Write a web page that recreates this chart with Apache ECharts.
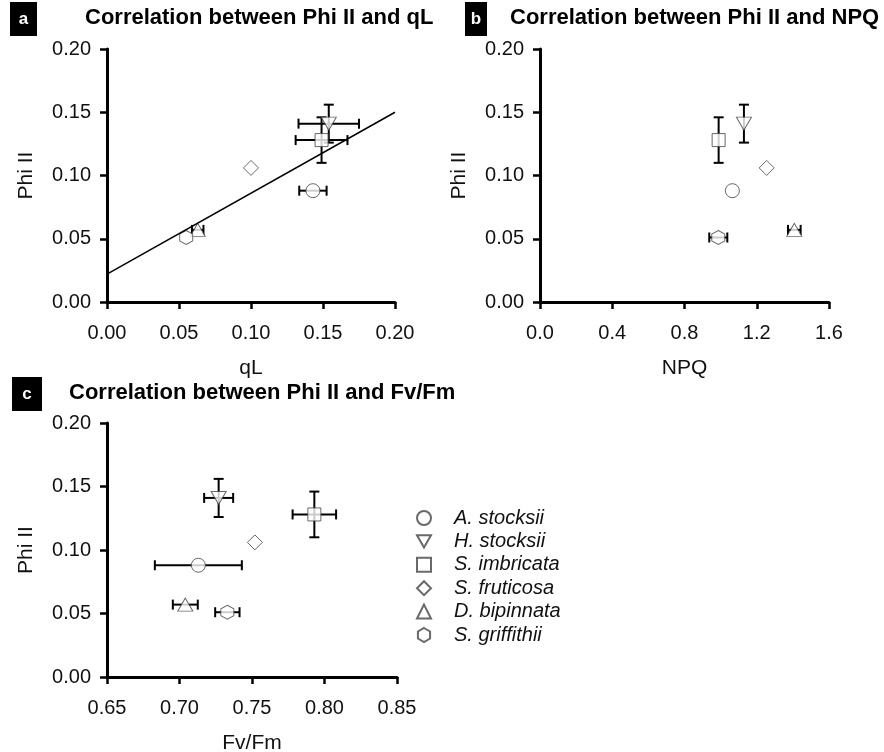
<!DOCTYPE html>
<html>
<head>
<meta charset="utf-8">
<script src="https://cdn.jsdelivr.net/npm/echarts@6/dist/echarts.min.js"></script>
<style>
  html, body { margin: 0; padding: 0; background: #fff; }
  #chart { width: 884px; height: 752px; }
</style>
</head>
<body>
<div id="chart"></div>
<script>
// species and their markers
const species = ["A. stocksii", "H. stocksii", "S. imbricata", "S. fruticosa", "D. bipinnata", "S. griffithii"];
const downTri = "path://M0,0 L10,0 L5,8.7 Z";
const hexagon = "path://M5,0 L9.33,2.5 L9.33,7.5 L5,10 L0.67,7.5 L0.67,2.5 Z";
const symbols = ["circle", downTri, "rect", "diamond", "triangle", hexagon];
const symbolSizes = [14, [15, 13], 13, 15, [15, 13], [13, 14]];

// measured values (mean) and error (+/-)
const phi2 = [0.088, 0.141, 0.128, 0.106, 0.057, 0.051];
const phi2Err = [0, 0.015, 0.018, 0, 0, 0];
const qL = [0.143, 0.154, 0.149, 0.100, 0.063, 0.055];
const qLErr = [0.0095, 0.021, 0.018, 0, 0.004, 0];
const npq = [1.065, 1.129, 0.989, 1.255, 1.408, 0.987];
const npqErr = [0, 0, 0, 0, 0.035, 0.05];
const fvfm = [0.713, 0.727, 0.793, 0.752, 0.704, 0.733];
const fvfmErr = [0.030, 0.010, 0.015, 0, 0.0086, 0.0084];

// regression line in panel a
const fitX = [0, 0.2];
const fitY = [0.022, 0.150];

// axis ranges
const phiTicks = [0, 0.2, 0.05];
const qLTicks = [0, 0.2, 0.05];
const npqTicks = [0, 1.6, 0.4];
const fvfmTicks = [0.65, 0.85, 0.05];

const FONT = "'Liberation Sans', Arial, sans-serif";

const chart = echarts.init(document.getElementById("chart"));

const makeAxis = (ticks, decimals, name, gridIndex, isY) => ({
  type: "value",
  gridIndex: gridIndex,
  min: ticks[0],
  max: ticks[1],
  interval: ticks[2],
  name: name,
  nameLocation: "middle",
  nameGap: isY ? 70 : 56,
  nameTextStyle: { fontFamily: FONT, fontSize: 21, color: "#111" },
  axisLine: { show: true, onZero: false, lineStyle: { color: "#000", width: 3 } },
  axisTick: { show: true, inside: false, length: 7, lineStyle: { color: "#000", width: 2.5 } },
  splitLine: { show: false },
  axisLabel: {
    fontFamily: FONT,
    fontSize: 20,
    color: "#111",
    margin: isY ? 16 : 21,
    formatter: (v) => v.toFixed(decimals),
  },
});

const errRender = (params, api) => {
  const x = api.value(0), y = api.value(1), ex = api.value(2), ey = api.value(3);
  const style = { stroke: "#000", lineWidth: 2 };
  const cap = 5;
  const children = [];
  if (ex > 0) {
    const l = api.coord([x - ex, y]);
    const r = api.coord([x + ex, y]);
    children.push({ type: "line", shape: { x1: l[0], y1: l[1], x2: r[0], y2: r[1] }, style });
    children.push({ type: "line", shape: { x1: l[0], y1: l[1] - cap, x2: l[0], y2: l[1] + cap }, style });
    children.push({ type: "line", shape: { x1: r[0], y1: r[1] - cap, x2: r[0], y2: r[1] + cap }, style });
  }
  if (ey > 0) {
    const t = api.coord([x, y + ey]);
    const b = api.coord([x, y - ey]);
    children.push({ type: "line", shape: { x1: t[0], y1: t[1], x2: b[0], y2: b[1] }, style });
    children.push({ type: "line", shape: { x1: t[0] - cap, y1: t[1], x2: t[0] + cap, y2: t[1] }, style });
    children.push({ type: "line", shape: { x1: b[0] - cap, y1: b[1], x2: b[0] + cap, y2: b[1] }, style });
  }
  return { type: "group", children };
};

const panels = [
  { xs: qL, xErr: qLErr },
  { xs: npq, xErr: npqErr },
  { xs: fvfm, xErr: fvfmErr },
];

const series = [];
panels.forEach((p, pi) => {
  series.push({
    type: "custom",
    xAxisIndex: pi,
    yAxisIndex: pi,
    z: 2,
    silent: true,
    renderItem: errRender,
    encode: { x: 0, y: 1 },
    data: p.xs.map((x, i) => [x, phi2[i], p.xErr[i], phi2Err[i]]),
  });
  species.forEach((name, i) => {
    series.push({
      name: name,
      type: "scatter",
      xAxisIndex: pi,
      yAxisIndex: pi,
      z: 3,
      symbol: symbols[i],
      symbolSize: symbolSizes[i],
      itemStyle: { color: "#fff", borderColor: "#444", borderWidth: 1 },
      data: [[p.xs[i], phi2[i]]],
    });
  });
});

series.push({
  type: "line",
  xAxisIndex: 0,
  yAxisIndex: 0,
  z: 4,
  symbol: "none",
  silent: true,
  lineStyle: { color: "#000", width: 1.5 },
  data: fitX.map((x, i) => [x, fitY[i]]),
});

const labelBox = (x, y, w, h, letter) => ({
  type: "group",
  left: x,
  top: y,
  children: [
    { type: "rect", shape: { x: 0, y: 0, width: w, height: h }, style: { fill: "#000" } },
    {
      type: "text",
      x: w / 2,
      y: h / 2,
      style: { text: letter, fill: "#fff", font: "bold 17px " + FONT, align: "center", verticalAlign: "middle" },
    },
  ],
});

const titleText = (x, y, text) => ({
  type: "text",
  left: x,
  top: y,
  style: { text: text, fill: "#000", font: "bold 22px " + FONT },
});

chart.setOption({
  animation: false,
  backgroundColor: "#fff",
  grid: [
    { left: 107, top: 49, width: 288, height: 253, outerBoundsMode: "none" },
    { left: 540, top: 49, width: 289, height: 253, outerBoundsMode: "none" },
    { left: 107, top: 423, width: 290, height: 254, outerBoundsMode: "none" },
  ],
  xAxis: [
    makeAxis(qLTicks, 2, "qL", 0, false),
    makeAxis(npqTicks, 1, "NPQ", 1, false),
    makeAxis(fvfmTicks, 2, "Fv/Fm", 2, false),
  ],
  yAxis: [
    makeAxis(phiTicks, 2, "Phi II", 0, true),
    makeAxis(phiTicks, 2, "Phi II", 1, true),
    makeAxis(phiTicks, 2, "Phi II", 2, true),
  ],
  legend: {
    orient: "vertical",
    left: 416,
    top: 508,
    padding: 0,
    itemWidth: 14,
    itemHeight: 14,
    itemGap: 3.4,
    selectedMode: false,
    data: species.map((name, i) => ({ name: name, icon: symbols[i] })),
    textStyle: { fontFamily: FONT, fontSize: 20, fontStyle: "italic", color: "#111", lineHeight: 19, padding: [0, 0, 0, 18] },
  },
  graphic: [
    labelBox(10, 2, 27, 34, "a"),
    labelBox(465, 2, 22, 34, "b"),
    labelBox(12, 377, 30, 34, "c"),
    titleText(85, 7, "Correlation between Phi II and qL"),
    titleText(510, 7, "Correlation between Phi II and NPQ"),
    titleText(69, 382, "Correlation between Phi II and Fv/Fm"),
  ],
  series: series,
});
</script>
</body>
</html>
